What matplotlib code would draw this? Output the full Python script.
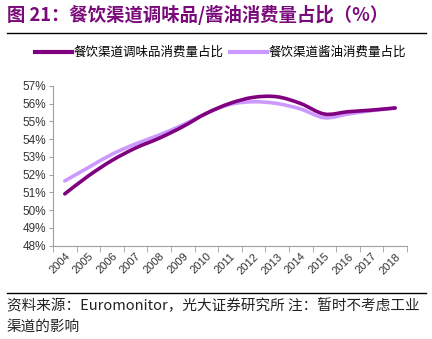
import numpy as np
import matplotlib
matplotlib.use("Agg")
import matplotlib.pyplot as plt
from matplotlib.path import Path
from matplotlib.patches import PathPatch
from matplotlib.lines import Line2D

plt.rcParams['font.family'] = ['Noto Sans CJK SC', 'DejaVu Sans']

years = [str(y) for y in range(2004, 2019)]
condiment_share = [50.92, 51.93, 52.80, 53.50, 54.05, 54.70, 55.45, 56.01,
                   56.35, 56.38, 56.00, 55.41, 55.54, 55.63, 55.75]
soy_share = [51.65, 52.40, 53.15, 53.73, 54.23, 54.80, 55.45, 55.95,
             56.10, 56.00, 55.69, 55.20, 55.41, 55.60, 55.75]
labels = ['餐饮渠道调味品消费量占比', '餐饮渠道酱油消费量占比']

DARK = '#800080'
LIGHT = '#CC99FF'
PURPLE_TITLE = '#7A0A7A'


def smooth_path(xs, ys):
    # Bezier curve through the data points, like Excel's smoothed line
    xs = np.asarray(xs, float)
    ys = np.asarray(ys, float)
    verts = [(xs[0], ys[0])]
    codes = [Path.MOVETO]
    n = len(xs)
    for i in range(n - 1):
        p0 = (xs[max(i - 1, 0)], ys[max(i - 1, 0)])
        p1 = (xs[i], ys[i])
        p2 = (xs[i + 1], ys[i + 1])
        p3 = (xs[min(i + 2, n - 1)], ys[min(i + 2, n - 1)])
        c1 = (p1[0] + (p2[0] - p0[0]) / 6, p1[1] + (p2[1] - p0[1]) / 6)
        c2 = (p2[0] - (p3[0] - p1[0]) / 6, p2[1] - (p3[1] - p1[1]) / 6)
        verts += [c1, c2, p2]
        codes += [Path.CURVE4] * 3
    return Path(verts, codes)


fig = plt.figure(figsize=(4.32, 3.39), dpi=100)
ax = fig.add_axes([0.1227, 0.275, 0.8193, 0.472])

x = np.arange(len(years))
for vals, color in [(soy_share, LIGHT), (condiment_share, DARK)]:
    ax.add_patch(PathPatch(smooth_path(x, vals), facecolor='none', edgecolor=color,
                           lw=2.6, capstyle='round', joinstyle='round'))

ax.set_xlim(-0.5, len(years) - 0.5)
ax.set_ylim(48, 57)
ax.set_yticks(np.arange(48, 58, 1))
ax.set_yticklabels([f'{v}%' for v in range(48, 58)], fontsize=8.5, color='#333333',
                   family='Liberation Sans')
ax.set_xticks(x)
ax.set_xticklabels(years, rotation=45, fontsize=8, color='#333333',
                   family='Liberation Sans', ha='right', rotation_mode='anchor')
ax.set_xticks(np.arange(-0.5, len(years)), minor=True)
ax.tick_params(axis='x', which='major', length=0, pad=4)
ax.tick_params(axis='x', which='minor', length=4, color='#A0A0A0')
ax.tick_params(axis='y', length=3, color='#A0A0A0', pad=2)
for s in ['top', 'right']:
    ax.spines[s].set_visible(False)
for s in ['left', 'bottom']:
    ax.spines[s].set_color('#A0A0A0')
    ax.spines[s].set_linewidth(0.8)

# legend
handles = [Line2D([], [], color=DARK, lw=3), Line2D([], [], color=LIGHT, lw=3)]
fig.legend(handles, labels, loc='center', bbox_to_anchor=(0.51, 0.845), ncol=2,
           frameon=False, fontsize=9, handlelength=3.0, handletextpad=0.1,
           columnspacing=0.5)

# title and rules
fig.text(0.016, 0.955, '图 21：餐饮渠道调味品/酱油消费量占比（%）', fontsize=13.2,
         fontweight='bold', color=PURPLE_TITLE, va='center')
fig.add_artist(Line2D([0.016, 0.985], [0.902, 0.902], color='black', lw=1))
fig.add_artist(Line2D([0.016, 0.985], [0.135, 0.135], color='black', lw=1))

fig.text(0.016, 0.1, '资料来源：Euromonitor，光大证券研究所 注：暂时不考虑工业', fontsize=10.5,
         color='#222222', va='center')
fig.text(0.016, 0.035, '渠道的影响', fontsize=10.5, color='#222222', va='center')

fig.savefig('out.png', dpi=100)
